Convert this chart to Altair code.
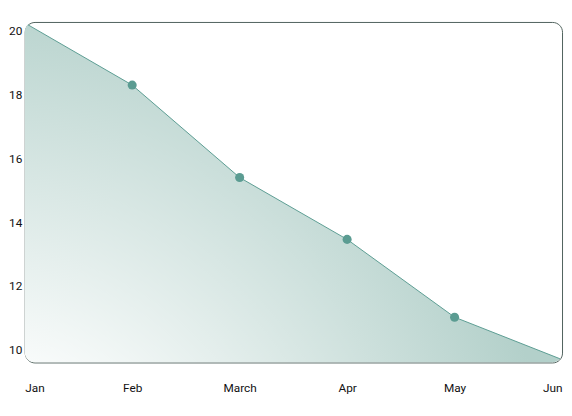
import altair as alt
import pandas as pd

months = ["Jan", "Feb", "March", "Apr", "May", "Jun"]
values = [20.25, 18.30, 15.40, 13.46, 11.02, 9.69]
marked = [False, True, True, True, True, False]
y_ticks = [10, 12, 14, 16, 18, 20]

df = pd.DataFrame({"month": months, "value": values, "marked": marked})

x = alt.X("month:O", sort=months, title=None,
          scale=alt.Scale(type="point", padding=0),
          axis=alt.Axis(labelAngle=0, ticks=False, domain=False, labelPadding=21,
                        labelFlush=True, labelFont="Roboto", labelFontSize=12,
                        labelColor="#111111"))
y = alt.Y("value:Q", title=None,
          scale=alt.Scale(domain=[9.6, 20.28], zero=False, nice=False),
          axis=alt.Axis(values=y_ticks, ticks=False, domain=False, grid=False,
                        labelPadding=3, labelFont="Roboto", labelFontSize=12,
                        labelColor="#111111"))

base = alt.Chart(df)

area = base.mark_area(
    clip=True,
    fill=alt.RadialGradient(
        gradient="radial",
        stops=[alt.GradientStop(color="#ffffff", offset=0.27),
               alt.GradientStop(color="#b3d0ca", offset=0.92)],
        x1=0, y1=0.84, r1=0, x2=0, y2=0.84, r2=1,
    ),
).encode(x=x, y=y, y2=alt.value(346))

line = base.mark_line(clip=True, color="#5b9c92", strokeWidth=1).encode(x=x, y=y)

points = base.transform_filter("datum.marked").mark_point(
    filled=True, size=85, color="#5b9c92", opacity=1
).encode(x=x, y=y)

chart = (area + line + points).properties(
    width=546, height=346,
    padding={"left": 0, "top": 11, "right": 2, "bottom": 5},
).configure_view(
    stroke="#4e605b", strokeWidth=1, cornerRadius=10
)

chart.save("out.html", embed_options={"renderer": "svg", "actions": False})
